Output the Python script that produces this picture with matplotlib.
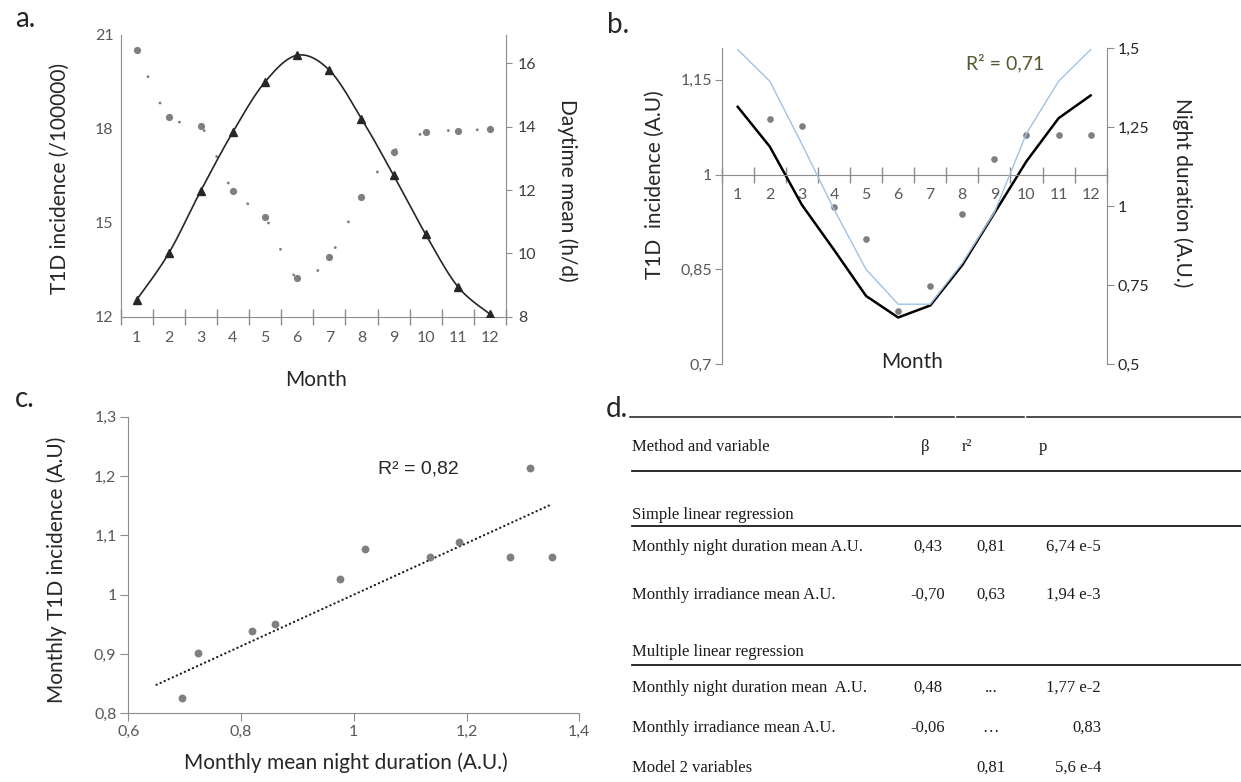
import numpy as np
import matplotlib.pyplot as plt
from matplotlib.ticker import FuncFormatter

plt.rcParams['font.family'] = ['Lato', 'DejaVu Sans']
plt.rcParams['axes.unicode_minus'] = False

W, H = 1241, 782

months = list(range(1, 13))

# a. T1D incidence (/100000) and daytime mean (h/d)
incidence_a = [20.52, 18.38, 18.10, 16.02, 15.17, 13.23, 13.92, 15.83, 17.27, 17.89, 17.94, 17.99]
daytime_a = [8.53, 10.0, 11.98, 13.84, 15.42, 16.26, 15.79, 14.26, 12.47, 10.6, 8.95, 8.08]

# b. normalised values (A.U.)
incidence_b = [1.214, 1.088, 1.076, 0.949, 0.898, 0.785, 0.823, 0.937, 1.024, 1.063, 1.063, 1.063]
fit_b = [1.107, 1.044, 0.952, 0.881, 0.808, 0.774, 0.793, 0.857, 0.939, 1.021, 1.089, 1.125]
night_b = [1.495, 1.395, 1.196, 0.99, 0.80, 0.69, 0.69, 0.82, 0.98, 1.23, 1.395, 1.495]
r2_b = "R² = 0,71"

# c. incidence vs night duration
night_c = [0.695, 0.723, 0.819, 0.860, 0.976, 1.019, 1.135, 1.187, 1.277, 1.313, 1.352]
incidence_c = [0.825, 0.901, 0.939, 0.951, 1.026, 1.077, 1.064, 1.089, 1.064, 1.214, 1.064]
trend_slope = 0.434
trend_intercept = 0.566
trend_range = [0.65, 1.35]
r2_c = "R² = 0,82"

# d. regression table
table_header = ["Method and variable", "β", "r²", "p"]
section_simple = "Simple linear regression"
section_multiple = "Multiple linear regression"
table_variables = ["Monthly night duration mean A.U.", "Monthly irradiance mean A.U.",
                   "Monthly night duration mean  A.U.", "Monthly irradiance mean A.U.",
                   "Model 2 variables"]
table_beta = ["0,43", "-0,70", "0,48", "-0,06", ""]
table_r2 = ["0,81", "0,63", "...", "…", "0,81"]
table_p = ["6,74 e-5", "1,94 e-3", "1,77 e-2", "0,83", "5,6 e-4"]

GRAY_AX = '#8c8c8c'
GRAY_TXT = '#595959'
DOT = '#7f7f7f'
DARK = '#262626'


def px(x, y):
    return x / W, 1 - y / H


def box(left, top, right, bottom):
    return [left / W, 1 - bottom / H, (right - left) / W, (bottom - top) / H]


def comma(v, pos=None):
    return ('%g' % v).replace('.', ',')


def smooth(x, y, n=24):
    # excel-like smoothed line (catmull-rom through the points)
    p = np.column_stack([x, y]).astype(float)
    p = np.vstack([p[0], p, p[-1]])
    t = np.linspace(0, 1, n, endpoint=False)[:, None]
    out = []
    for i in range(1, len(p) - 2):
        p0, p1, p2, p3 = p[i - 1], p[i], p[i + 1], p[i + 2]
        out.append(0.5 * (2 * p1 + (p2 - p0) * t + (2 * p0 - 5 * p1 + 4 * p2 - p3) * t ** 2
                          + (-p0 + 3 * p1 - 3 * p2 + p3) * t ** 3))
    out.append(p[-2][None, :])
    out = np.vstack(out)
    return out[:, 0], out[:, 1]


def category_axis(ax):
    ax.set_xlim(0.5, 12.5)
    ax.set_xticks(months)
    ax.set_xticks(np.arange(0.5, 13, 1), minor=True)
    ax.tick_params(axis='x', which='major', length=0, pad=10, labelsize=11.5, labelcolor=GRAY_TXT)
    ax.tick_params(axis='x', which='minor', direction='inout', length=11, width=1, color=GRAY_AX)


fig = plt.figure(figsize=(W / 100, H / 100), dpi=100)

# table / text layer
axd = fig.add_axes([0, 0, 1, 1])
axd.set_xlim(0, W)
axd.set_ylim(H, 0)
axd.set_axis_off()

# ---------------- a.
axa = fig.add_axes(box(120.5, 35, 506, 316.7))
axa.patch.set_visible(False)
xs, ys = smooth(months, incidence_a)
axa.plot(xs, ys, color=DOT, lw=2, ls=(0, (0.1, 10.3)), dash_capstyle='round')
axa.plot(months, incidence_a, 'o', color=DOT, ms=5.2, mec='none')
axa.set_ylim(12, 21)
axa.set_yticks([12, 15, 18, 21])
axa.tick_params(axis='y', length=0, pad=5, labelsize=11.5, labelcolor=GRAY_TXT)
category_axis(axa)
for s in ['top', 'right']:
    axa.spines[s].set_visible(False)
for s in ['left', 'bottom']:
    axa.spines[s].set_color(GRAY_AX)

axa2 = axa.twinx()
xs, ys = smooth(months, daytime_a)
axa2.plot(xs, ys, color=DARK, lw=1.2)
axa2.plot(months, daytime_a, '^', color=DARK, ms=5.5)
axa2.set_ylim(8, 16.9)
axa2.set_yticks([8, 10, 12, 14, 16])
axa2.tick_params(axis='y', direction='out', length=4.5, color=GRAY_AX, pad=4, labelsize=11.5,
                 labelcolor='#404040')
for s in ['top', 'left', 'bottom']:
    axa2.spines[s].set_visible(False)
axa2.spines['right'].set_color(GRAY_AX)

fig.text(*px(60, 178), "T1D incidence (/100000)", rotation=90, ha='center', va='center',
         fontsize=15, color=DARK)
fig.text(*px(567, 190), "Daytime mean (h/d)", rotation=270, ha='center', va='center',
         fontsize=15, color=DARK)
fig.text(*px(316, 380), "Month", ha='center', va='center', fontsize=15, color=DARK)
fig.text(*px(15, 27), "a.", ha='left', va='baseline', fontsize=20, color=DARK)

# ---------------- b.
axb = fig.add_axes(box(721.7, 48, 1106.7, 364.3))
axb.patch.set_visible(False)
axb.plot(months, incidence_b, 'o', color=DOT, ms=4.8, mec='none')
axb.plot(months, fit_b, color='black', lw=1.8)
axb.set_ylim(0.7, 1.2)
axb.set_yticks([0.7, 0.85, 1, 1.15])
axb.yaxis.set_major_formatter(FuncFormatter(comma))
axb.tick_params(axis='y', direction='out', length=5, color=GRAY_AX, pad=2, labelsize=11.5,
                labelcolor=GRAY_TXT)
category_axis(axb)
axb.spines['bottom'].set_position(('data', 1))
for s in ['top', 'right']:
    axb.spines[s].set_visible(False)
for s in ['left', 'bottom']:
    axb.spines[s].set_color(GRAY_AX)

axb2 = axb.twinx()
axb2.plot(months, night_b, color='#9dc3e6', lw=1)
axb2.set_ylim(0.5, 1.5)
axb2.set_yticks([0.5, 0.75, 1, 1.25, 1.5])
axb2.yaxis.set_major_formatter(FuncFormatter(comma))
axb2.tick_params(axis='y', direction='out', length=5, color=GRAY_AX, pad=3, labelsize=11.5,
                 labelcolor=DARK)
for s in ['top', 'left', 'bottom']:
    axb2.spines[s].set_visible(False)
axb2.spines['right'].set_color(GRAY_AX)

fig.text(*px(655, 185), "T1D  incidence (A.U)", rotation=90, ha='center', va='center',
         fontsize=15, color=DARK)
fig.text(*px(1182, 193), "Night duration (A.U.)", rotation=270, ha='center', va='center',
         fontsize=15, color=DARK)
fig.text(*px(912, 362), "Month", ha='center', va='center', fontsize=15, color=DARK)
fig.text(*px(1005, 63), r2_b, ha='center', va='center', fontsize=14, color='#575730')
fig.text(*px(607, 33), "b.", ha='left', va='baseline', fontsize=20, color=DARK)

# ---------------- c.
axc = fig.add_axes(box(128.3, 416.7, 579.3, 713.3))
axc.patch.set_visible(False)
axc.scatter(night_c, incidence_c, s=32, color=DOT, lw=0, zorder=3)
tx = np.array(trend_range)
axc.plot(tx, trend_intercept + trend_slope * tx, color='#1a1a1a', lw=1.6,
         ls=(0, (0.1, 1.9)), dash_capstyle='round')
axc.set_xlim(0.6, 1.4)
axc.set_ylim(0.8, 1.3)
axc.set_xticks([0.6, 0.8, 1.0, 1.2, 1.4])
axc.set_yticks([0.8, 0.9, 1.0, 1.1, 1.2, 1.3])
axc.xaxis.set_major_formatter(FuncFormatter(comma))
axc.yaxis.set_major_formatter(FuncFormatter(comma))
axc.tick_params(direction='out', length=5.5, color=GRAY_AX, pad=3, labelsize=11.5,
                labelcolor=GRAY_TXT)
for s in ['top', 'right']:
    axc.spines[s].set_visible(False)
for s in ['left', 'bottom']:
    axc.spines[s].set_color(GRAY_AX)

fig.text(*px(57, 570), "Monthly T1D incidence (A.U)", rotation=90, ha='center', va='center',
         fontsize=15, color=DARK)
fig.text(*px(346, 763), "Monthly mean night duration (A.U.)", ha='center', va='center',
         fontsize=15, color=DARK)
fig.text(*px(418, 469), r2_c, ha='center', va='center', fontsize=14, color=DARK,
         family=['Liberation Sans', 'DejaVu Sans'])
fig.text(*px(15, 407), "c.", ha='left', va='baseline', fontsize=20, color=DARK)

# ---------------- d.
fig.text(*px(606, 417), "d.", ha='left', va='baseline', fontsize=20, color=DARK)
for x0, x1 in [(630, 892), (895, 954), (957, 1024), (1027, 1241)]:
    axd.plot([x0, x1], [417, 417], color='#1a1a1a', lw=1.1)
for yl in [471, 525.7, 665]:
    axd.plot([632, 1241], [yl, yl], color='#1a1a1a', lw=1.3)

serif = ['Liberation Serif', 'DejaVu Serif']
tkw = dict(va='center', fontsize=12, color='#1a1a1a', family=serif)
axd.text(632, 447, table_header[0], ha='left', **tkw)
axd.text(925, 447, table_header[1], ha='center', **tkw)
axd.text(967, 447, table_header[2], ha='center', **tkw)
axd.text(1043, 447, table_header[3], ha='center', **tkw)
axd.text(632, 515, section_simple, ha='left', **tkw)
axd.text(632, 652, section_multiple, ha='left', **tkw)

row_y = [547, 595, 688, 728, 768]
for y, name, b, r, p in zip(row_y, table_variables, table_beta, table_r2, table_p):
    axd.text(632, y, name, ha='left', **tkw)
    axd.text(928, y, b, ha='center', **tkw)
    axd.text(991, y, r, ha='center', **tkw)
    axd.text(1101, y, p, ha='right', **tkw)

fig.savefig('out.png', dpi=100)
